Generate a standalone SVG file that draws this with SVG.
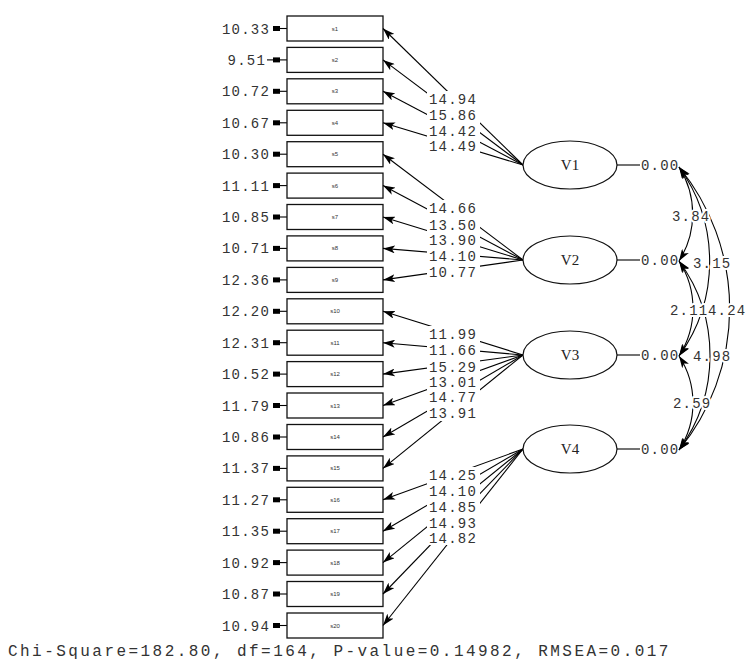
<svg xmlns="http://www.w3.org/2000/svg" width="750" height="663" viewBox="0 0 750 663">
<defs>
<marker id="ah" viewBox="0 0 12 8" refX="12" refY="4" markerWidth="12" markerHeight="8" markerUnits="userSpaceOnUse" orient="auto-start-reverse"><path d="M0,0 L12,4 L0,8 L3,4 z" fill="#000"/></marker>
<style>
.bx{fill:#fff;stroke:#111;stroke-width:1.3}
.sl{font-family:"Liberation Sans",Arial,sans-serif;font-size:6px;fill:#333;text-anchor:middle}
.num{font-family:"Liberation Mono","Courier New",monospace;font-size:14px;letter-spacing:1.2px;fill:#333}
.err{text-anchor:end}
.ea{fill:#000}
.el{fill:#fff;stroke:#111;stroke-width:1.2}
.vl{font-family:"Liberation Serif","Times New Roman",serif;font-size:15px;fill:#222;text-anchor:middle}
.ln{stroke:#000;stroke-width:1.1;fill:none}
.ld{stroke:#000;stroke-width:1.1;fill:none;marker-end:url(#ah)}
.cv{stroke:#000;stroke-width:1.1;fill:none;marker-start:url(#ah);marker-end:url(#ah)}
.halo{paint-order:stroke;stroke:#fff;stroke-width:4px;stroke-linejoin:round}
.bg{fill:#fff}
.chi{font-family:"Liberation Mono","Courier New",monospace;font-size:16px;letter-spacing:2.45px;fill:#333}
</style>
</defs>
<rect width="750" height="663" fill="#fff"/>

<g id="s1"><text class="num err" x="270" y="33.5">10.33</text><rect class="ea" x="273" y="26" width="7" height="5"/><line class="ln" x1="280" y1="28.5" x2="287" y2="28.5" stroke-width="1.6"/><rect class="bx" x="287" y="16" width="96" height="25"/><text class="sl" x="335" y="30.5">s1</text></g>
<g id="s2"><text class="num err" x="266" y="64.9">9.51</text><rect class="ea" x="273" y="57.4" width="7" height="5"/><line class="ln" x1="267" y1="59.9" x2="287" y2="59.9" stroke-width="1.6"/><rect class="bx" x="287" y="47.4" width="96" height="25"/><text class="sl" x="335" y="61.9">s2</text></g>
<g id="s3"><text class="num err" x="270" y="96.3">10.72</text><rect class="ea" x="273" y="88.8" width="7" height="5"/><line class="ln" x1="280" y1="91.3" x2="287" y2="91.3" stroke-width="1.6"/><rect class="bx" x="287" y="78.8" width="96" height="25"/><text class="sl" x="335" y="93.3">s3</text></g>
<g id="s4"><text class="num err" x="270" y="127.8">10.67</text><rect class="ea" x="273" y="120.3" width="7" height="5"/><line class="ln" x1="280" y1="122.8" x2="287" y2="122.8" stroke-width="1.6"/><rect class="bx" x="287" y="110.3" width="96" height="25"/><text class="sl" x="335" y="124.8">s4</text></g>
<g id="s5"><text class="num err" x="270" y="159.2">10.30</text><rect class="ea" x="273" y="151.7" width="7" height="5"/><line class="ln" x1="280" y1="154.2" x2="287" y2="154.2" stroke-width="1.6"/><rect class="bx" x="287" y="141.7" width="96" height="25"/><text class="sl" x="335" y="156.2">s5</text></g>
<g id="s6"><text class="num err" x="270" y="190.6">11.11</text><rect class="ea" x="273" y="183.1" width="7" height="5"/><line class="ln" x1="280" y1="185.6" x2="287" y2="185.6" stroke-width="1.6"/><rect class="bx" x="287" y="173.1" width="96" height="25"/><text class="sl" x="335" y="187.6">s6</text></g>
<g id="s7"><text class="num err" x="270" y="222">10.85</text><rect class="ea" x="273" y="214.5" width="7" height="5"/><line class="ln" x1="280" y1="217" x2="287" y2="217" stroke-width="1.6"/><rect class="bx" x="287" y="204.5" width="96" height="25"/><text class="sl" x="335" y="219">s7</text></g>
<g id="s8"><text class="num err" x="270" y="253.4">10.71</text><rect class="ea" x="273" y="245.9" width="7" height="5"/><line class="ln" x1="280" y1="248.4" x2="287" y2="248.4" stroke-width="1.6"/><rect class="bx" x="287" y="235.9" width="96" height="25"/><text class="sl" x="335" y="250.4">s8</text></g>
<g id="s9"><text class="num err" x="270" y="284.9">12.36</text><rect class="ea" x="273" y="277.4" width="7" height="5"/><line class="ln" x1="280" y1="279.9" x2="287" y2="279.9" stroke-width="1.6"/><rect class="bx" x="287" y="267.4" width="96" height="25"/><text class="sl" x="335" y="281.9">s9</text></g>
<g id="s10"><text class="num err" x="270" y="316.3">12.20</text><rect class="ea" x="273" y="308.8" width="7" height="5"/><line class="ln" x1="280" y1="311.3" x2="287" y2="311.3" stroke-width="1.6"/><rect class="bx" x="287" y="298.8" width="96" height="25"/><text class="sl" x="335" y="313.3">s10</text></g>
<g id="s11"><text class="num err" x="270" y="347.7">12.31</text><rect class="ea" x="273" y="340.2" width="7" height="5"/><line class="ln" x1="280" y1="342.7" x2="287" y2="342.7" stroke-width="1.6"/><rect class="bx" x="287" y="330.2" width="96" height="25"/><text class="sl" x="335" y="344.7">s11</text></g>
<g id="s12"><text class="num err" x="270" y="379.1">10.52</text><rect class="ea" x="273" y="371.6" width="7" height="5"/><line class="ln" x1="280" y1="374.1" x2="287" y2="374.1" stroke-width="1.6"/><rect class="bx" x="287" y="361.6" width="96" height="25"/><text class="sl" x="335" y="376.1">s12</text></g>
<g id="s13"><text class="num err" x="270" y="410.5">11.79</text><rect class="ea" x="273" y="403" width="7" height="5"/><line class="ln" x1="280" y1="405.5" x2="287" y2="405.5" stroke-width="1.6"/><rect class="bx" x="287" y="393" width="96" height="25"/><text class="sl" x="335" y="407.5">s13</text></g>
<g id="s14"><text class="num err" x="270" y="442">10.86</text><rect class="ea" x="273" y="434.5" width="7" height="5"/><line class="ln" x1="280" y1="437" x2="287" y2="437" stroke-width="1.6"/><rect class="bx" x="287" y="424.5" width="96" height="25"/><text class="sl" x="335" y="439">s14</text></g>
<g id="s15"><text class="num err" x="270" y="473.4">11.37</text><rect class="ea" x="273" y="465.9" width="7" height="5"/><line class="ln" x1="280" y1="468.4" x2="287" y2="468.4" stroke-width="1.6"/><rect class="bx" x="287" y="455.9" width="96" height="25"/><text class="sl" x="335" y="470.4">s15</text></g>
<g id="s16"><text class="num err" x="270" y="504.8">11.27</text><rect class="ea" x="273" y="497.3" width="7" height="5"/><line class="ln" x1="280" y1="499.8" x2="287" y2="499.8" stroke-width="1.6"/><rect class="bx" x="287" y="487.3" width="96" height="25"/><text class="sl" x="335" y="501.8">s16</text></g>
<g id="s17"><text class="num err" x="270" y="536.2">11.35</text><rect class="ea" x="273" y="528.7" width="7" height="5"/><line class="ln" x1="280" y1="531.2" x2="287" y2="531.2" stroke-width="1.6"/><rect class="bx" x="287" y="518.7" width="96" height="25"/><text class="sl" x="335" y="533.2">s17</text></g>
<g id="s18"><text class="num err" x="270" y="567.6">10.92</text><rect class="ea" x="273" y="560.1" width="7" height="5"/><line class="ln" x1="280" y1="562.6" x2="287" y2="562.6" stroke-width="1.6"/><rect class="bx" x="287" y="550.1" width="96" height="25"/><text class="sl" x="335" y="564.6">s18</text></g>
<g id="s19"><text class="num err" x="270" y="599">10.87</text><rect class="ea" x="273" y="591.5" width="7" height="5"/><line class="ln" x1="280" y1="594" x2="287" y2="594" stroke-width="1.6"/><rect class="bx" x="287" y="581.5" width="96" height="25"/><text class="sl" x="335" y="596">s19</text></g>
<g id="s20"><text class="num err" x="270" y="630.5">10.94</text><rect class="ea" x="273" y="623" width="7" height="5"/><line class="ln" x1="280" y1="625.5" x2="287" y2="625.5" stroke-width="1.6"/><rect class="bx" x="287" y="613" width="96" height="25"/><text class="sl" x="335" y="627.5">s20</text></g>

<g id="connectors">
<g id="loadings">
<path class="ld" d="M523 165 L383 28.5"/>
<path class="ld" d="M523 165 L383 59.9"/>
<path class="ld" d="M523 165 L383 91.3"/>
<path class="ld" d="M523 165 L383 122.8"/>
<path class="ld" d="M523 260 L383 154.2"/>
<path class="ld" d="M523 260 L383 185.6"/>
<path class="ld" d="M523 260 L383 217"/>
<path class="ld" d="M523 260 L383 248.4"/>
<path class="ld" d="M523 260 L383 279.9"/>
<path class="ld" d="M523 355 L383 311.3"/>
<path class="ld" d="M523 355 L383 342.7"/>
<path class="ld" d="M523 355 L383 374.1"/>
<path class="ld" d="M523 355 L383 405.5"/>
<path class="ld" d="M523 355 L383 437"/>
<path class="ld" d="M523 355 L383 468.4"/>
<path class="ld" d="M523 449 L383 499.8"/>
<path class="ld" d="M523 449 L383 531.2"/>
<path class="ld" d="M523 449 L383 562.6"/>
<path class="ld" d="M523 449 L383 594"/>
<path class="ld" d="M523 449 L383 625.5"/>
<rect class="bg" x="427" y="91" width="53" height="63"/>
<rect class="bg" x="427" y="200" width="53" height="80"/>
<rect class="bg" x="427" y="326" width="53" height="95"/>
<rect class="bg" x="427" y="467" width="53" height="78"/>
<text class="num" x="429" y="104">14.94</text>
<text class="num" x="429" y="120">15.86</text>
<text class="num" x="429" y="136">14.42</text>
<text class="num" x="429" y="151">14.49</text>
<text class="num" x="429" y="213">14.66</text>
<text class="num" x="429" y="230">13.50</text>
<text class="num" x="429" y="245">13.90</text>
<text class="num" x="429" y="261">14.10</text>
<text class="num" x="429" y="277">10.77</text>
<text class="num" x="429" y="339">11.99</text>
<text class="num" x="429" y="355">11.66</text>
<text class="num" x="429" y="372">15.29</text>
<text class="num" x="429" y="387">13.01</text>
<text class="num" x="429" y="402">14.77</text>
<text class="num" x="429" y="418">13.91</text>
<text class="num" x="429" y="480">14.25</text>
<text class="num" x="429" y="496">14.10</text>
<text class="num" x="429" y="512">14.85</text>
<text class="num" x="429" y="528">14.93</text>
<text class="num" x="429" y="543">14.82</text>
</g>
<g id="covariances">
<path class="cv" d="M679 167 A87.6 87.6 0 0 1 679 261"/>
<path class="cv" d="M679 167 A161 161 0 0 1 679 356"/>
<path class="cv" d="M679 167 A223 223 0 0 1 679 450"/>
<path class="cv" d="M679 261 A87.6 87.6 0 0 1 679 356"/>
<path class="cv" d="M679 261 A159.5 159.5 0 0 1 679 450"/>
<path class="cv" d="M679 356 A85.9 85.9 0 0 1 679 450"/>
<text class="num halo" x="672" y="221">3.84</text>
<text class="num halo" x="693" y="268">3.15</text>
<text class="num halo" x="670" y="315">2.11</text>
<text class="num halo" x="708" y="315">4.24</text>
<text class="num halo" x="693" y="361">4.98</text>
<text class="num halo" x="673" y="408">2.59</text>
</g>
</g>

<g id="V1"><ellipse class="el" cx="570" cy="165" rx="47" ry="24"/><text class="vl" x="570" y="170">V1</text><line class="ln" x1="617" y1="165" x2="640" y2="165"/><text class="num" x="641" y="170">0.00</text></g>
<g id="V2"><ellipse class="el" cx="570" cy="260" rx="47" ry="24"/><text class="vl" x="570" y="265">V2</text><line class="ln" x1="617" y1="260" x2="640" y2="260"/><text class="num" x="641" y="265">0.00</text></g>
<g id="V3"><ellipse class="el" cx="570" cy="355" rx="47" ry="24"/><text class="vl" x="570" y="360">V3</text><line class="ln" x1="617" y1="355" x2="640" y2="355"/><text class="num" x="641" y="360">0.00</text></g>
<g id="V4"><ellipse class="el" cx="570" cy="449" rx="47" ry="24"/><text class="vl" x="570" y="454">V4</text><line class="ln" x1="617" y1="449" x2="640" y2="449"/><text class="num" x="641" y="454">0.00</text></g>

<text class="chi" x="8" y="656">Chi-Square=182.80, df=164, P-value=0.14982, RMSEA=0.017</text>
</svg>
